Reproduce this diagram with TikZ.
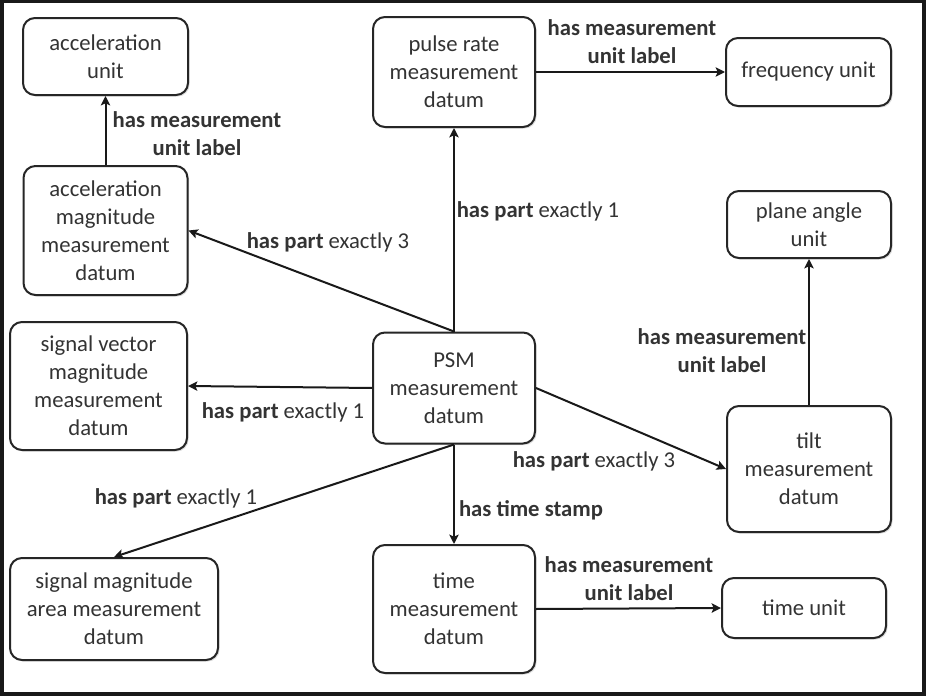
\documentclass[tikz,border=0pt]{standalone}
\usepackage{fontspec}
\setmainfont{Carlito}
\usetikzlibrary{arrows.meta,shadows}

\tikzset{
	datum/.style 2 args={draw=black!85, line width=1.5pt, rounded corners=9pt, fill=white,
		align=center, inner sep=0pt, text=black!80,
		minimum width=#1*0.75pt, minimum height=#2*0.75pt,
		drop shadow={opacity=0.25, shadow xshift=1.2pt, shadow yshift=-1.2pt}},
	lbl/.style={align=center, inner sep=0pt, text=black!80},
	link/.style={draw=black!90, line width=1.5pt, -{Stealth[length=7pt,width=7pt,inset=1.5pt]}},
}

\begin{document}
\begin{tikzpicture}[x=0.75pt, y=-0.75pt, font=\fontsize{17}{21}\selectfont]
			%%%%% FRAME %%%%%
			\useasboundingbox (0,0) rectangle (926,696);
			\draw[line width=3.2pt, color=black!90] (1.5,1) rectangle (924,694.5);
			
			%%%%% DATUMS %%%%%
			\node[datum={165}{77}] (accunit) at (105.5, 56.5) {acceleration\\unit};
			\node[datum={164}{129}] (accmag) at (105.5, 230.5) {acceleration\\magnitude\\measurement\\datum};
			\node[datum={162}{110}] (pulse) at (454, 72) {pulse rate\\measurement\\datum};
			\node[datum={165}{68}] (frequnit) at (808.5, 72) {frequency unit};
			\node[datum={164}{67}] (planeunit) at (809, 224.5) {plane angle\\unit};
			\node[datum={177}{128}] (svm) at (98.5, 386) {signal vector\\magnitude\\measurement\\datum};
			\node[datum={162}{111}] (psm) at (454, 388) {PSM\\measurement\\datum};
			\node[datum={164}{126}] (tilt) at (809, 469) {tilt\\measurement\\datum};
			\node[datum={208}{102}] (sma) at (114, 609) {signal magnitude\\area measurement\\datum};
			\node[datum={162}{128}] (time) at (454, 609) {time\\measurement\\datum};
			\node[datum={164}{60}] (timeunit) at (804, 608) {time unit};
			
			%%%%% LINKS %%%%%
			\draw[link] (accmag.north) -- (accunit.south);
			\draw[link] (psm.north) -- (accmag.east);
			\draw[link] (psm.north) -- (pulse.south);
			\draw[link] (pulse.east) -- (frequnit.west);
			\draw[link] (psm.west) -- (svm.east);
			\draw[link] (psm.south) -- (sma.north);
			\draw[link] (psm.east) -- (tilt.west);
			\draw[link] (psm.south) -- (time.north);
			\draw[link] (time.east) -- (timeunit.west);
			\draw[link] (tilt.north) -- (planeunit.south);
			
			%%%%% LABELS %%%%%
			\node[lbl, font=\fontsize{17}{21}\selectfont\bfseries] (laccunit) at (197, 134) {has measurement\\unit label};
			\node[lbl] (laccmag) at (328, 242) {\textbf{has part} exactly 3};
			\node[lbl] (lpulse) at (538, 211) {\textbf{has part} exactly 1};
			\node[lbl, font=\fontsize{17}{21}\selectfont\bfseries] (lfrequnit) at (632, 42) {has measurement\\unit label};
			\node[lbl] (lsvm) at (283, 412) {\textbf{has part} exactly 1};
			\node[lbl] (lsma) at (176, 498) {\textbf{has part} exactly 1};
			\node[lbl] (ltilt) at (594, 461) {\textbf{has part} exactly 3};
			\node[lbl, font=\fontsize{17}{21}\selectfont\bfseries] (ltime) at (531, 510) {has time stamp};
			\node[lbl, font=\fontsize{17}{21}\selectfont\bfseries] (ltimeunit) at (629, 579) {has measurement\\unit label};
			\node[lbl, font=\fontsize{17}{21}\selectfont\bfseries] (lplaneunit) at (722, 351) {has measurement\\unit label};
			
			%%%%% END %%%%%
\end{tikzpicture}
\end{document}
